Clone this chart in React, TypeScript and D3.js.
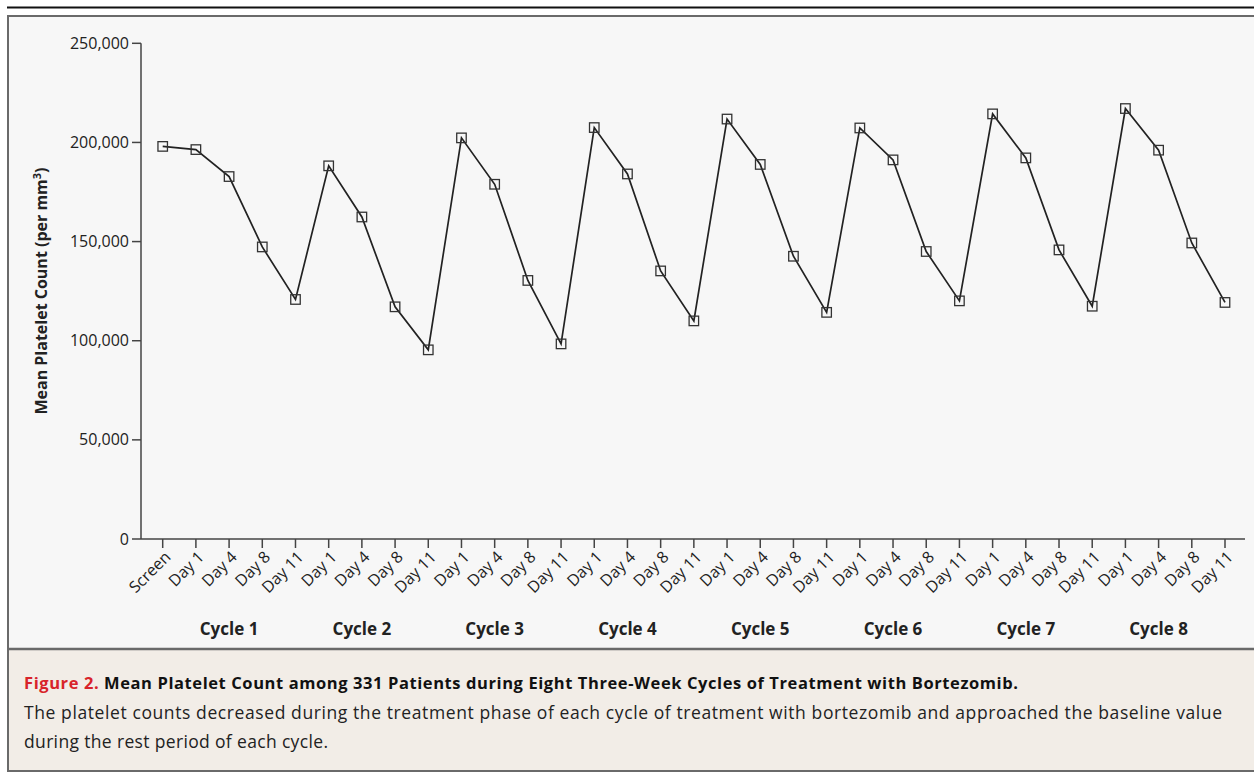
import React from "react";
import * as d3 from "d3";

const cycles = ["Cycle 1", "Cycle 2", "Cycle 3", "Cycle 4", "Cycle 5", "Cycle 6", "Cycle 7", "Cycle 8"];
const dayLabels = ["Day 1", "Day 4", "Day 8", "Day 11"];
const timepoints = ["Screen", ...cycles.flatMap(() => dayLabels)];
const platelets = [
  198000,
  196400, 182800, 147300, 120800,
  188200, 162400, 117100, 95400,
  202300, 178900, 130400, 98400,
  207500, 184100, 135200, 110000,
  211800, 188900, 142600, 114300,
  207300, 191200, 145000, 120100,
  214400, 192200, 145800, 117400,
  217100, 196100, 149300, 119300,
];
const yTicks = [0, 50000, 100000, 150000, 200000, 250000];

const W = 1254;
const H = 774;
const FONT = "'Open Sans', 'Noto Sans', sans-serif";

export default function App() {
  const x = d3.scaleLinear().domain([0, timepoints.length - 1]).range([162.7, 1225]);
  const y = d3.scaleLinear().domain([0, 250000]).range([539, 43.3]);
  const line = d3
    .line<number>()
    .x((_, i) => x(i))
    .y((d) => y(d));
  const fmt = d3.format(",");
  const ms = 9.5;

  return (
    <svg
      width={W}
      height={H}
      style={{ position: "absolute", left: 0, top: 0, display: "block", background: "#fff" }}
    >
      {/* top rule */}
      <line x1={7} x2={W} y1={7.5} y2={7.5} stroke="#111" strokeWidth={2} />
      {/* panel */}
      <rect x={8} y={16} width={W} height={633} fill="#f7f7f7" />
      <rect x={8} y={649} width={W} height={122} fill="#f2ede7" />
      <rect x={8} y={16} width={W + 10} height={755} fill="none" stroke="#6a6a6a" strokeWidth={2} />
      <line x1={8} x2={W} y1={649} y2={649} stroke="#6a6a6a" strokeWidth={2.5} />

      {/* y axis */}
      <line x1={141} x2={141} y1={43.3} y2={539} stroke="#444" strokeWidth={1.5} />
      {yTicks.map((t) => (
        <g key={t} transform={`translate(141,${y(t)})`}>
          <line x1={-9} x2={0} stroke="#444" strokeWidth={1.5} />
          <text x={-12} dy="0.35em" textAnchor="end" fontSize={16} fontFamily={FONT} fill="#222">
            {fmt(t)}
          </text>
        </g>
      ))}
      <text
        transform={`translate(47,291) rotate(-90)`}
        textAnchor="middle"
        fontSize={16}
        fontWeight="bold"
        fontFamily={FONT}
        fill="#222"
      >
        Mean Platelet Count (per mm<tspan dy={-6} fontSize={11}>3</tspan>
        <tspan dy={6}>)</tspan>
      </text>

      {/* x axis */}
      <line x1={141} x2={1245} y1={539} y2={539} stroke="#444" strokeWidth={1.5} />
      {timepoints.map((t, i) => (
        <g key={i} transform={`translate(${x(i)},539)`}>
          <line y1={0} y2={9} stroke="#444" strokeWidth={1.5} />
          <text
            transform="translate(5,15) rotate(-45)"
            textAnchor="end"
            dy="0.35em"
            fontSize={16}
            fontFamily={FONT}
            fill="#222"
          >
            {t}
          </text>
        </g>
      ))}
      {cycles.map((c, k) => (
        <text
          key={c}
          x={x(1 + k * 4 + 1)}
          y={635}
          textAnchor="middle"
          fontSize={17}
          fontWeight="bold"
          fontFamily={FONT}
          fill="#222"
        >
          {c}
        </text>
      ))}

      {/* data */}
      <path d={line(platelets) || ""} fill="none" stroke="#222" strokeWidth={1.7} />
      {platelets.map((v, i) => (
        <rect
          key={i}
          x={x(i) - ms / 2}
          y={y(v) - ms / 2}
          width={ms}
          height={ms}
          fill="none"
          stroke="#333"
          strokeWidth={1.3}
        />
      ))}

      {/* caption */}
      <text
        x={24}
        y={689}
        fontSize={16.5}
        fontWeight="bold"
        fontFamily={FONT}
        fill="#111"
        textLength={994}
        lengthAdjust="spacing"
      >
        <tspan fill="#d8232a">Figure 2.</tspan> Mean Platelet Count among 331 Patients during Eight Three-Week Cycles of Treatment with Bortezomib.
      </text>
      <text
        x={24}
        y={719}
        fontSize={17.5}
        fontFamily={FONT}
        fill="#222"
        textLength={1198}
        lengthAdjust="spacing"
      >
        The platelet counts decreased during the treatment phase of each cycle of treatment with bortezomib and approached the baseline value
      </text>
      <text
        x={24}
        y={748}
        fontSize={17.5}
        fontFamily={FONT}
        fill="#222"
        textLength={304}
        lengthAdjust="spacing"
      >
        during the rest period of each cycle.
      </text>
    </svg>
  );
}
